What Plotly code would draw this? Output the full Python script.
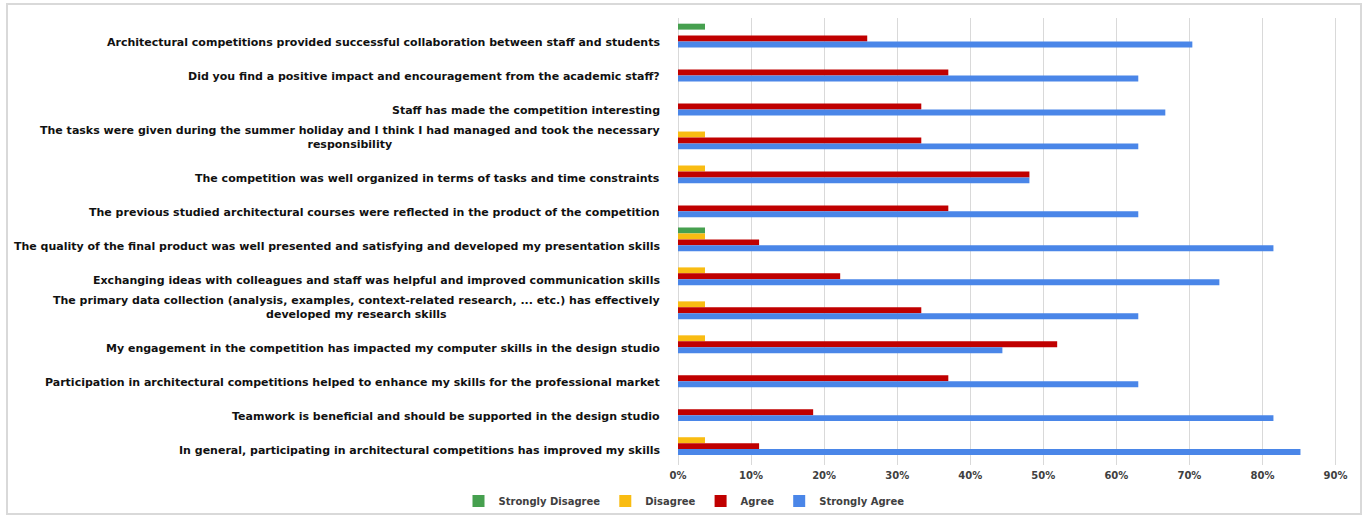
import plotly.graph_objects as go

# Survey statements (top to bottom) and the share of answers per level, in %
categories = [
    "Architectural competitions provided successful collaboration between staff and students",
    "Did you find a positive impact and encouragement from the academic staff?",
    "Staff has made the competition interesting",
    "The tasks were given during the summer holiday and I think I had managed and took the necessary<br>responsibility",
    "The competition was well organized in terms of tasks and time constraints",
    "The previous studied architectural courses were reflected in the product of the competition",
    "The quality of the final product was well presented and satisfying and developed my presentation skills",
    "Exchanging ideas with colleagues and staff was helpful and improved communication skills",
    "The primary data collection (analysis, examples, context-related research, ... etc.) has effectively<br>developed my research skills",
    "My engagement in the competition has impacted my computer skills in the design studio",
    "Participation in architectural competitions helped to enhance my skills for the professional market",
    "Teamwork is beneficial and should be supported in the design studio",
    "In general, participating in architectural competitions has improved my skills",
]
strongly_disagree = [3.7, 0, 0, 0, 0, 0, 3.7, 0, 0, 0, 0, 0, 0]
disagree = [0, 0, 0, 3.7, 3.7, 0, 3.7, 3.7, 3.7, 3.7, 0, 0, 3.7]
agree = [25.9, 37.0, 33.3, 33.3, 48.1, 37.0, 11.1, 22.2, 33.3, 51.9, 37.0, 18.5, 11.1]
strongly_agree = [70.4, 63.0, 66.7, 63.0, 48.1, 63.0, 81.5, 74.1, 63.0, 44.4, 63.0, 81.5, 85.2]
x_ticks = [0, 10, 20, 30, 40, 50, 60, 70, 80, 90]

series = [
    ("Strongly Disagree", strongly_disagree, "#46a04f"),
    ("Disagree", disagree, "#f9bc12"),
    ("Agree", agree, "#c00000"),
    ("Strongly Agree", strongly_agree, "#4a86e8"),
]

BAR_W = 0.175
FONT = "DejaVu Sans"

fig = go.Figure()
n = len(series)
for i, (name, values, color) in enumerate(series):
    # bars stacked within each group from top (first series) to bottom (last series)
    offset = -BAR_W / 2 - (n - 1 - i) * BAR_W
    fig.add_trace(go.Bar(
        name=name,
        y=categories,
        x=values,
        orientation="h",
        width=BAR_W,
        offset=offset,
        marker=dict(color=color, line=dict(width=0)),
    ))

# statement labels, centred text block right-aligned against the plot
for cat in categories:
    fig.add_annotation(
        x=0, xref="paper", xshift=-16, xanchor="right",
        y=cat, yref="y", yanchor="bottom", yshift=-7,
        text=cat, showarrow=False, align="center",
        font=dict(family=FONT, size=11, color="#111111", weight="bold"),
    )

W, H = 1368, 517
L, R, T, B = 678, 31, 18, 52
pw, ph = W - L - R, H - T - B

# outer chart frame
fig.add_shape(
    type="rect", xref="paper", yref="paper",
    x0=(7 - L) / pw, x1=(1361 - L) / pw,
    y0=-(514 - (H - B)) / ph, y1=((H - B) - 4) / ph,
    line=dict(color="#d9d9d9", width=2), fillcolor="rgba(0,0,0,0)",
)

fig.update_layout(
    width=W, height=H,
    margin=dict(l=L, r=R, t=T, b=B, autoexpand=False),
    paper_bgcolor="white", plot_bgcolor="white",
    barmode="overlay",
    showlegend=True,
    legend=dict(
        orientation="h", x=(684 - L) / pw, xanchor="center",
        y=-(501 - (H - B)) / ph, yanchor="middle",
        font=dict(family=FONT, size=10, color="#404040", weight="bold"),
        itemwidth=30, bgcolor="rgba(0,0,0,0)",
    ),
    xaxis=dict(
        range=[0, 90.2], tickvals=x_ticks, ticktext=[f"{v}%" for v in x_ticks],
        showgrid=True, gridcolor="#d9d9d9", gridwidth=1,
        zeroline=True, zerolinecolor="#d9d9d9", zerolinewidth=1,
        showline=False, ticks="", ticklabelstandoff=3,
        tickfont=dict(family=FONT, size=10, color="#404040", weight="bold"),
    ),
    yaxis=dict(
        type="category", categoryorder="array", categoryarray=categories,
        range=[12.38, -0.78], showticklabels=False, showgrid=False,
        zeroline=False, showline=False, ticks="",
    ),
)

fig.write_html("out.html")
